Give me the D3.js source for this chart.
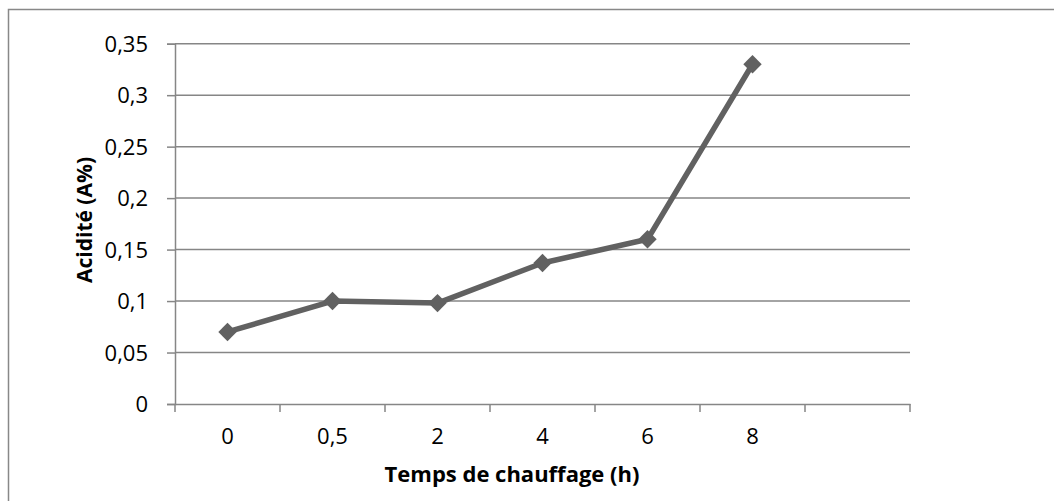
<!DOCTYPE html>
<html><head><meta charset="utf-8">
<script src="https://cdn.jsdelivr.net/npm/d3@7"></script>
<style>
html,body{margin:0;padding:0;background:#fff;overflow:hidden}
text{font-family:"Open Sans",sans-serif;fill:#000}
</style></head>
<body>
<svg id="c" width="1054" height="501"></svg>
<script>
const categories = ["0", "0,5", "2", "4", "6", "8", ""];
const values = [0.07, 0.1, 0.098, 0.137, 0.16, 0.33];
const yTicks = [0, 0.05, 0.1, 0.15, 0.2, 0.25, 0.3, 0.35];
const yTickLabels = ["0", "0,05", "0,1", "0,15", "0,2", "0,25", "0,3", "0,35"];
const xTitle = "Temps de chauffage (h)";
const yTitle = "Acidité (A%)";

const svg = d3.select("#c");
const L = 175, R = 910, T = 43.7, B = 404;
const gridColor = "#868686";

// outer frame
svg.append("rect").attr("x", 8.5).attr("y", 9.5).attr("width", 1100).attr("height", 600)
  .attr("fill", "none").attr("stroke", "#888").attr("stroke-width", 1.5);

const x = d3.scaleBand().domain(categories.map((c,i)=>i)).range([L, R]).padding(0);
const y = d3.scaleLinear().domain([0, 0.35]).range([B, T]);

// gridlines
svg.append("g").selectAll("line").data(yTicks.slice(1)).join("line")
  .attr("x1", L).attr("x2", R).attr("y1", d=>y(d)).attr("y2", d=>y(d))
  .attr("stroke", gridColor).attr("stroke-width", 1.5);

// y axis
const yAxis = svg.append("g").attr("transform", `translate(${L},0)`)
  .call(d3.axisLeft(y).tickValues(yTicks).tickFormat((d,i)=>yTickLabels[i]).tickSize(8).tickPadding(19));
yAxis.select(".domain").attr("stroke", gridColor).attr("stroke-width", 1.5);
yAxis.selectAll(".tick line").attr("stroke", gridColor).attr("stroke-width", 1.5);
yAxis.selectAll("text").style("font-size", "22px").attr("fill", "#000").attr("dy", "0.35em");

// x axis
const xAxis = svg.append("g").attr("transform", `translate(0,${B})`)
  .call(d3.axisBottom(x).tickFormat(i=>categories[i]).tickSize(0).tickPadding(24));
xAxis.select(".domain").attr("stroke", gridColor).attr("stroke-width", 1.5);
xAxis.selectAll("text").style("font-size", "22px").attr("fill", "#000");
const edges = d3.range(categories.length + 1).map(i => i < categories.length ? x(i) : x(categories.length-1) + x.bandwidth());
svg.append("g").selectAll("line").data(edges).join("line")
  .attr("x1", d=>d).attr("x2", d=>d).attr("y1", B).attr("y2", B + 8)
  .attr("stroke", gridColor).attr("stroke-width", 1.5);

// line
const cx = i => x(i) + x.bandwidth()/2;
svg.append("path").datum(values)
  .attr("d", d3.line().x((d,i)=>cx(i)).y(d=>y(d)))
  .attr("fill", "none").attr("stroke", "#616161").attr("stroke-width", 5.5).attr("stroke-linejoin", "round");

// markers
svg.append("g").selectAll("rect").data(values).join("rect")
  .attr("x", -6.5).attr("y", -6.5).attr("width", 13).attr("height", 13)
  .attr("transform", (d,i)=>`translate(${cx(i)},${y(d)}) rotate(45)`)
  .attr("fill", "#616161");

// titles
svg.append("text").attr("x", 512).attr("y", 482).attr("text-anchor", "middle")
  .style("font-size", "22px").style("font-weight", "bold").text(xTitle);
svg.append("text").attr("transform", `translate(92,220) rotate(-90)`).attr("text-anchor", "middle")
  .style("font-size", "21px").style("font-weight", "bold").text(yTitle);
</script>
</body></html>
